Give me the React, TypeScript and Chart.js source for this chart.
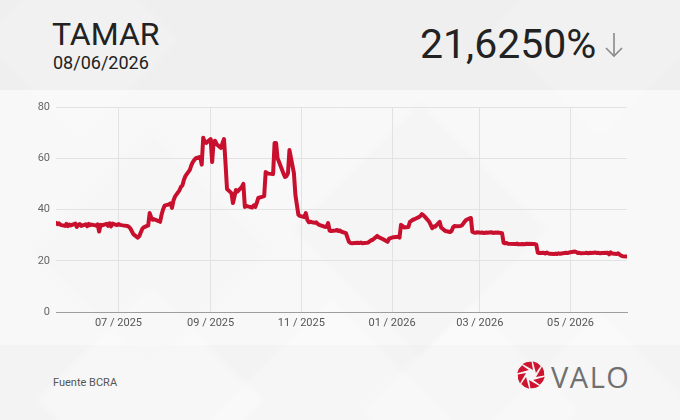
import React, { useEffect, useRef } from "react";
import { Chart, registerables } from "chart.js";

Chart.register(...registerables);

const DATES: string[] = [
  "2025-05-20","2025-05-21","2025-05-22","2025-05-23","2025-05-26","2025-05-27","2025-05-28","2025-05-29","2025-05-30",
  "2025-06-02","2025-06-03","2025-06-04","2025-06-05","2025-06-06","2025-06-09","2025-06-10","2025-06-11","2025-06-12",
  "2025-06-13","2025-06-16","2025-06-17","2025-06-18","2025-06-19","2025-06-20","2025-06-23","2025-06-24","2025-06-25",
  "2025-06-26","2025-06-27","2025-06-30","2025-07-01","2025-07-02","2025-07-03","2025-07-04","2025-07-07","2025-07-08",
  "2025-07-09","2025-07-10","2025-07-11","2025-07-14","2025-07-15","2025-07-16","2025-07-17","2025-07-18","2025-07-21",
  "2025-07-22","2025-07-23","2025-07-24","2025-07-25","2025-07-28","2025-07-29","2025-07-30","2025-07-31","2025-08-01",
  "2025-08-04","2025-08-05","2025-08-06","2025-08-07","2025-08-08","2025-08-11","2025-08-12","2025-08-13","2025-08-14",
  "2025-08-15","2025-08-18","2025-08-19","2025-08-20","2025-08-21","2025-08-22","2025-08-25","2025-08-26","2025-08-27",
  "2025-08-28","2025-08-29","2025-09-01","2025-09-02","2025-09-03","2025-09-04","2025-09-05","2025-09-08","2025-09-09",
  "2025-09-10","2025-09-11","2025-09-12","2025-09-15","2025-09-16","2025-09-17","2025-09-18","2025-09-19","2025-09-22",
  "2025-09-23","2025-09-24","2025-09-25","2025-09-26","2025-09-29","2025-09-30","2025-10-01","2025-10-02","2025-10-03",
  "2025-10-06","2025-10-07","2025-10-08","2025-10-09","2025-10-10","2025-10-13","2025-10-14","2025-10-15","2025-10-16",
  "2025-10-17","2025-10-20","2025-10-21","2025-10-22","2025-10-23","2025-10-24","2025-10-27","2025-10-28","2025-10-29",
  "2025-10-30","2025-10-31","2025-11-03","2025-11-04","2025-11-05","2025-11-06","2025-11-07","2025-11-10","2025-11-11",
  "2025-11-12","2025-11-13","2025-11-14","2025-11-17","2025-11-18","2025-11-19","2025-11-20","2025-11-21","2025-11-24",
  "2025-11-25","2025-11-26","2025-11-27","2025-11-28","2025-12-01","2025-12-02","2025-12-03","2025-12-04","2025-12-05",
  "2025-12-09","2025-12-10","2025-12-11","2025-12-12","2025-12-15","2025-12-16","2025-12-17","2025-12-18","2025-12-19",
  "2025-12-22","2025-12-23","2025-12-26","2025-12-29","2025-12-30","2026-01-02","2026-01-05","2026-01-06","2026-01-07",
  "2026-01-08","2026-01-09","2026-01-12","2026-01-13","2026-01-14","2026-01-15","2026-01-16","2026-01-19","2026-01-20",
  "2026-01-21","2026-01-22","2026-01-23","2026-01-26","2026-01-27","2026-01-28","2026-01-29","2026-01-30","2026-02-02",
  "2026-02-03","2026-02-04","2026-02-05","2026-02-06","2026-02-09","2026-02-10","2026-02-11","2026-02-12","2026-02-13",
  "2026-02-16","2026-02-17","2026-02-18","2026-02-19","2026-02-20","2026-02-23","2026-02-24","2026-02-25","2026-02-26",
  "2026-02-27","2026-03-02","2026-03-03","2026-03-04","2026-03-05","2026-03-06","2026-03-09","2026-03-10","2026-03-11",
  "2026-03-12","2026-03-13","2026-03-16","2026-03-17","2026-03-18","2026-03-19","2026-03-20","2026-03-25","2026-03-26",
  "2026-03-27","2026-03-30","2026-03-31","2026-04-01","2026-04-06","2026-04-07","2026-04-08","2026-04-09","2026-04-10",
  "2026-04-13","2026-04-14","2026-04-15","2026-04-16","2026-04-17","2026-04-20","2026-04-21","2026-04-22","2026-04-23",
  "2026-04-24","2026-04-27","2026-04-28","2026-04-29","2026-04-30","2026-05-04","2026-05-05","2026-05-06","2026-05-07",
  "2026-05-08","2026-05-11","2026-05-12","2026-05-13","2026-05-14","2026-05-15","2026-05-18","2026-05-19","2026-05-20",
  "2026-05-21","2026-05-22","2026-05-26","2026-05-27","2026-05-28","2026-05-29","2026-06-01","2026-06-02","2026-06-03",
  "2026-06-04","2026-06-05","2026-06-08"
];

const TAMAR_VALUES: number[] = [
  34.8,34.3,34.6,34.0,33.6,34.4,33.5,34.1,33.8,
  34.5,33.2,34.0,34.3,33.6,34.2,33.5,34.4,33.9,
  34.1,33.7,34.2,31.4,34.0,33.8,34.4,33.6,34.6,
  33.4,34.5,33.9,34.3,34.0,33.9,33.8,33.6,33.2,
  32.6,31.5,30.4,29.0,29.6,31.0,32.4,33.0,33.8,
  38.6,37.0,36.0,36.2,35.5,35.2,38.0,40.0,41.5,
  42.0,42.4,40.6,43.5,45.0,47.5,48.8,49.4,51.5,
  53.0,55.5,57.2,58.5,59.3,60.0,60.5,57.5,68.0,
  66.4,66.0,67.5,58.5,66.5,66.8,65.5,64.0,66.0,
  67.5,58.0,48.0,46.4,42.5,45.0,47.6,47.0,48.8,
  50.0,41.0,41.4,41.2,40.8,41.6,41.0,42.5,44.5,
  45.0,45.2,54.6,54.2,54.0,53.8,66.0,66.0,60.0,
  58.5,54.0,52.7,53.0,54.2,63.2,54.2,45.7,41.8,
  38.0,37.5,37.0,38.6,36.0,35.0,35.2,34.8,35.0,
  34.4,34.0,33.8,33.2,33.3,34.7,31.8,31.6,31.8,
  32.0,31.6,31.8,31.3,30.8,29.0,27.4,27.0,26.8,
  27.0,26.9,27.1,26.8,27.0,27.1,27.6,28.0,28.2,
  29.7,29.2,28.4,27.4,28.6,29.2,29.4,29.0,34.0,
  33.6,33.0,33.2,35.2,35.6,36.0,36.2,37.0,37.4,
  38.2,37.8,37.2,35.2,34.0,32.7,33.4,33.3,35.2,
  33.0,32.5,32.0,31.6,31.2,31.6,33.0,33.6,33.5,
  33.6,33.8,34.6,35.4,36.0,36.7,31.3,31.0,30.9,
  31.1,30.9,31.0,30.8,31.0,30.9,31.1,30.8,31.0,
  30.9,31.0,30.7,27.0,26.8,26.9,26.6,26.5,26.7,
  26.4,26.5,26.4,26.6,26.5,26.5,26.3,23.2,23.0,
  23.1,22.8,23.2,22.9,22.7,22.6,22.8,22.6,22.9,
  22.7,23.0,23.1,23.0,23.2,23.6,23.4,23.0,23.1,
  22.9,23.0,23.1,22.9,23.1,23.0,23.2,23.0,23.1,
  22.9,23.0,23.1,22.5,23.3,22.8,22.6,22.9,22.4,
  22.0,21.8,21.625
];

const TICK_DATES: string[] = ["2025-07-01", "2025-09-01", "2025-11-01", "2026-01-01", "2026-03-01", "2026-05-01"];
const TICK_LABELS: string[] = ["07 / 2025", "09 / 2025", "11 / 2025", "01 / 2026", "03 / 2026", "05 / 2026"];
const Y_TICKS: number[] = [0, 20, 40, 60, 80];
const X_START = "2025-05-20";
const X_END = "2026-06-08";

const TITLE = "TAMAR";
const DATE_LABEL = "08/06/2026";
const LAST_VALUE = "21,6250%";
const SOURCE = "Fuente BCRA";
const BRAND = "VALO";

const dayNum = (s: string): number => {
  const [y, m, d] = s.split("-").map(Number);
  return Date.UTC(y, m - 1, d) / 86400000;
};

function ChartCanvas() {
  const ref = useRef<HTMLCanvasElement | null>(null);
  useEffect(() => {
    if (!ref.current) return;
    const chart = new Chart(ref.current, {
      type: "line",
      data: {
        datasets: [
          {
            data: DATES.map((d, i) => ({ x: dayNum(d), y: TAMAR_VALUES[i] })),
            borderColor: "#c8102e",
            borderWidth: 4,
            pointRadius: 0,
            tension: 0,
            fill: false,
            borderJoinStyle: "round",
            borderCapStyle: "round",
          },
        ],
      },
      options: {
        animation: false,
        responsive: true,
        maintainAspectRatio: false,
        layout: { padding: { top: 17, right: 53, left: 0, bottom: 0 } },
        plugins: { legend: { display: false }, tooltip: { enabled: false } },
        scales: {
          x: {
            type: "linear",
            min: dayNum(X_START),
            max: dayNum(X_END),
            afterBuildTicks: (s: any) => {
              s.ticks = TICK_DATES.map((d) => ({ value: dayNum(d) }));
            },
            afterFit: (s: any) => {
              s.height = 28;
              s.paddingLeft = 0;
              s.paddingRight = 0;
            },
            ticks: {
              autoSkip: false,
              maxRotation: 0,
              padding: 5,
              color: "#555",
              font: { family: "Roboto", size: 11 },
              callback: (_v: any, i: number) => TICK_LABELS[i],
            },
            grid: { color: "#e2e2e2", drawTicks: false },
            border: { display: true, color: "#9e9e9e", width: 1 },
          },
          y: {
            min: 0,
            max: 80,
            afterBuildTicks: (s: any) => {
              s.ticks = Y_TICKS.map((v) => ({ value: v }));
            },
            afterFit: (s: any) => {
              s.width = 56;
              s.paddingTop = 0;
              s.paddingBottom = 0;
            },
            ticks: { padding: 6, color: "#666", font: { family: "Roboto", size: 11 } },
            grid: { color: "#e2e2e2", drawTicks: false },
            border: { display: false },
          },
        },
      },
    } as any);
    return () => chart.destroy();
  }, []);
  return <canvas ref={ref} />;
}

function Diamond({ x, y, s, c }: { x: number; y: number; s: number; c: string }) {
  return (
    <div
      style={{
        position: "absolute",
        left: x - s / 2,
        top: y - s / 2,
        width: s,
        height: s,
        transform: "rotate(45deg)",
        background: c,
        filter: "blur(2px)",
      }}
    />
  );
}

function Logo() {
  const blades = [0, 1, 2, 3, 4, 5, 6, 7];
  return (
    <svg width={40} height={40} viewBox="-20 -20 40 40" style={{ position: "absolute", left: 511, top: 355 }}>
      {blades.map((k) => (
        <path
          key={k}
          d="M5 2 L11 -8.5 Q13.8 -4 13.2 0.6 Q9 1.2 5 2 Z"
          fill="#cf1430"
          transform={`rotate(${k * 45})`}
        />
      ))}
    </svg>
  );
}

export default function App() {
  useEffect(() => {
    document.body.style.margin = "0";
  }, []);
  return (
    <div
      style={{
        position: "fixed",
        left: 0,
        top: 0,
        width: 680,
        height: 420,
        overflow: "hidden",
        background: "#f3f3f3",
        fontFamily: "Roboto, 'Noto Sans', sans-serif",
      }}
    >
      {/* background bands */}
      <div style={{ position: "absolute", left: 0, top: 0, width: 680, height: 90, background: "#efefef" }} />
      <div style={{ position: "absolute", left: 0, top: 90, width: 680, height: 255, background: "#f8f8f8" }} />
      <Diamond x={150} y={400} s={160} c="rgba(255,255,255,0.3)" />
      <Diamond x={330} y={420} s={170} c="rgba(255,255,255,0.28)" />
      <Diamond x={470} y={410} s={150} c="rgba(255,255,255,0.25)" />
      <Diamond x={600} y={420} s={150} c="rgba(255,255,255,0.25)" />
      <Diamond x={600} y={30} s={150} c="rgba(255,255,255,0.15)" />
      <Diamond x={80} y={40} s={140} c="rgba(255,255,255,0.15)" />
      <Diamond x={420} y={230} s={180} c="rgba(236,236,236,0.25)" />
      <Diamond x={150} y={250} s={170} c="rgba(238,238,238,0.2)" />

      {/* header */}
      <div style={{ position: "absolute", left: 52, top: 18, fontSize: 32, lineHeight: 1, color: "#222", whiteSpace: "nowrap" }}>
        {TITLE}
      </div>
      <div style={{ position: "absolute", left: 53, top: 54, fontSize: 18, lineHeight: 1, color: "#222", whiteSpace: "nowrap" }}>
        {DATE_LABEL}
      </div>
      <div style={{ position: "absolute", left: 420, top: 24, fontSize: 41, lineHeight: 1, color: "#222", whiteSpace: "nowrap" }}>
        {LAST_VALUE}
      </div>
      <svg width={24} height={30} style={{ position: "absolute", left: 602, top: 30 }}>
        <line x1={12} y1={3} x2={12} y2={26} stroke="#8a8a8a" strokeWidth={1.6} />
        <polyline points="4,18 12,26 20,18" fill="none" stroke="#8a8a8a" strokeWidth={1.6} />
      </svg>

      {/* chart */}
      <div style={{ position: "absolute", left: 0, top: 90, width: 680, height: 250 }}>
        <ChartCanvas />
      </div>

      {/* footer */}
      <div style={{ position: "absolute", left: 53, top: 377, fontSize: 11, lineHeight: 1, color: "#555", whiteSpace: "nowrap" }}>
        {SOURCE}
      </div>
      <Logo />
      <div
        style={{
          position: "absolute",
          left: 551,
          top: 362,
          fontSize: 29,
          lineHeight: 1,
          color: "#707070",
          fontFamily: "'Open Sans', sans-serif",
          letterSpacing: 1.5,
          whiteSpace: "nowrap",
        }}
      >
        {BRAND}
      </div>
    </div>
  );
}
